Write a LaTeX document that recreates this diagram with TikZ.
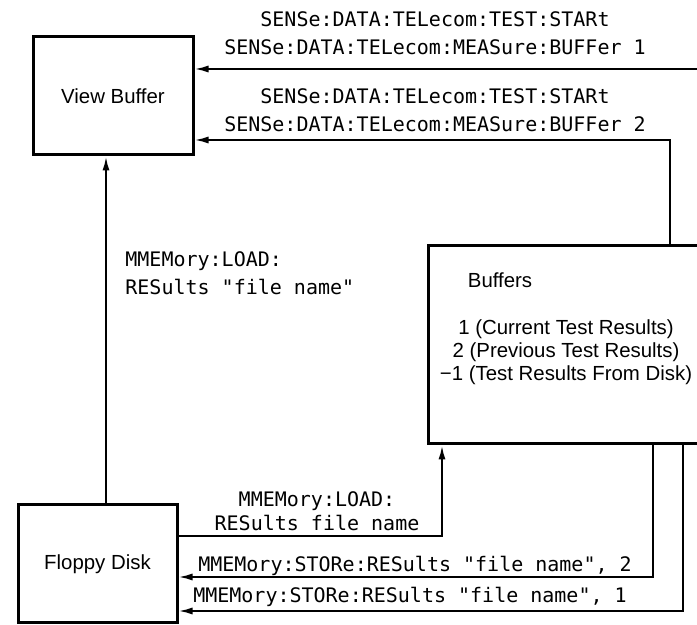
\documentclass[tikz,border=0pt]{standalone}
\usepackage{fontspec}
\setmainfont{Liberation Sans}
\setmonofont{DejaVu Sans Mono}
\usetikzlibrary{positioning,arrows.meta,calc}
\tikzset{
box/.style={
  draw,
  line width=1.5pt,
  inner sep=0pt,
  font=\fontsize{10.2}{11.5}\selectfont
  },
mono/.style={
  inner sep=0pt,
  align=center,
  font=\ttfamily\fontsize{10}{14}\selectfont
  },
conn/.style={
  line width=1pt,
  -{Latex[length=7pt,width=3.5pt]}
  }
}

\begin{document}
\begin{tikzpicture}[x=0.5pt, y=-0.5pt]
  \useasboundingbox (0,0) rectangle (697,625);
  \clip (0,0) rectangle (697,625);

  \node[box, minimum width=80pt, minimum height=59pt] (view) at (113,96) {View Buffer};
  \node[box, minimum width=79.5pt, minimum height=59pt] (floppy) at (97.5,564) {Floppy Disk};
  \node[box, minimum width=142pt, minimum height=99pt] (buffers) at (570,345) {};

  \node[anchor=west, inner sep=0pt, font=\fontsize{10.2}{11.5}\selectfont] (buftitle) at ($(buffers.north west)+(41,36)$) {Buffers};
  \node[align=center, inner sep=0pt, font=\fontsize{10.2}{11.5}\selectfont] (buflist) at (566,352)
    {1 (Current Test Results)\\2 (Previous Test Results)\\−1 (Test Results From Disk)};

  % readout of buffers into view buffer
  \coordinate (r1) at (703,69);
  \coordinate (r2) at (670,140);
  \draw[conn] (buffers.north -| r1) -- (r1) -- (r1 -| view.east);
  \draw[conn] (buffers.north -| r2) -- (r2) -- (r2 -| view.east);

  \node[mono] (sense1) at (435,33.5) {SENSe:DATA:TELecom:TEST:STARt\\SENSe:DATA:TELecom:MEASure:BUFFer 1};
  \node[mono] (sense2) at (435,110.5) {SENSe:DATA:TELecom:TEST:STARt\\SENSe:DATA:TELecom:MEASure:BUFFer 2};

  % disk to view buffer
  \coordinate (up) at (106,330);
  \draw[conn] (floppy.north -| up) -- (view.south -| up);
  \node[mono, align=left, anchor=west] (loadview) at (125,273) {MMEMory:LOAD:\\RESults "file name"};

  % disk to buffers and back
  \coordinate (ld) at (442,536);
  \coordinate (s2) at (653,577);
  \coordinate (s1) at (683,611);
  \draw[conn] (ld -| floppy.east) -- (ld) -- (buffers.south -| ld);
  \draw[conn] (buffers.south -| s2) -- (s2) -- (s2 -| floppy.east);
  \draw[conn] (buffers.south -| s1) -- (s1) -- (s1 -| floppy.east);

  \node[mono, font=\ttfamily\fontsize{10}{12}\selectfont] (loadbuf) at (317,511) {MMEMory:LOAD:\\RESults file name};
  \node[mono] (store2) at (415,566) {MMEMory:STORe:RESults "file name", 2};
  \node[mono] (store1) at (410,597) {MMEMory:STORe:RESults "file name", 1};

\end{tikzpicture}
\end{document}
